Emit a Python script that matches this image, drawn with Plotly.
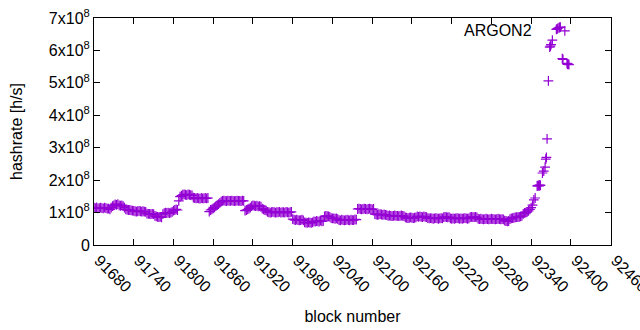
import plotly.graph_objects as go

# Hashrate in units of 1e8 h/s, one reading every 2 blocks starting at block 91680
start_block = 91680
block_step = 2
hashrate_e8 = [
    1.15, 1.14, 1.16, 1.13, 1.14, 1.15, 1.14, 1.13, 1.15, 1.14, 1.12,
    1.12, 1.10, 1.15,
    1.20, 1.22, 1.25, 1.24, 1.26, 1.22, 1.21, 1.22, 1.20,
    1.15, 1.10, 1.09, 1.08, 1.08, 1.07, 1.06,
    1.05, 1.04, 1.03, 1.04, 1.05, 1.04, 1.03, 1.04, 1.03, 1.02,
    0.97, 0.96, 0.96, 0.95, 0.96, 0.95,
    0.90, 0.88, 0.87, 0.86, 0.87, 0.85,
    0.95, 0.98, 1.00, 0.99, 1.00, 0.98, 1.00, 1.02,
    1.06, 1.08, 1.10, 1.08,
    1.36, 1.49,
    1.52, 1.55, 1.56, 1.55, 1.54, 1.56, 1.55, 1.54, 1.53,
    1.46, 1.45, 1.44, 1.45, 1.44, 1.43, 1.45, 1.44, 1.44, 1.45, 1.44, 1.45,
    1.03, 1.08, 1.10, 1.13, 1.16, 1.20, 1.23,
    1.26, 1.30, 1.34,
    1.36, 1.37, 1.36, 1.35, 1.37, 1.36, 1.36, 1.37, 1.36, 1.35, 1.36, 1.37, 1.36, 1.36, 1.35, 1.37, 1.36,
    1.06, 1.08, 1.10, 1.12, 1.15,
    1.20, 1.22, 1.21, 1.20, 1.21, 1.19, 1.20, 1.18,
    1.12, 1.10, 1.08, 1.06,
    1.02, 1.01, 1.00, 1.01, 1.02, 1.01, 1.00, 1.01, 1.01, 1.02, 1.00, 1.01, 1.01, 1.00, 1.02, 1.01, 1.00, 1.01, 1.02,
    0.80, 0.78, 0.77, 0.78, 0.77, 0.76, 0.77, 0.78, 0.76,
    0.70, 0.69, 0.68, 0.70, 0.69, 0.68, 0.70,
    0.73, 0.72, 0.74, 0.73, 0.72, 0.75, 0.73, 0.74,
    0.88, 0.90, 0.89, 0.88, 0.87,
    0.83, 0.82, 0.82, 0.81, 0.82, 0.80,
    0.77, 0.76, 0.78, 0.77, 0.76, 0.77, 0.78, 0.77, 0.76, 0.78, 0.77, 0.77, 0.79, 0.78,
    1.11, 1.12, 1.11, 1.10, 1.11, 1.12, 1.11, 1.10, 1.11, 1.12, 1.11, 1.10, 1.11,
    0.95, 0.94, 0.93, 0.94, 0.95, 0.94, 0.93, 0.94, 0.93, 0.92,
    0.90, 0.91, 0.90, 0.89, 0.90, 0.91, 0.90, 0.90, 0.89, 0.90, 0.91, 0.90, 0.89,
    0.85, 0.84, 0.83, 0.84, 0.85, 0.84, 0.83, 0.84, 0.85,
    0.88, 0.87, 0.88, 0.87, 0.86, 0.88, 0.87, 0.86,
    0.83, 0.82, 0.83, 0.82, 0.81, 0.82, 0.83, 0.82, 0.81, 0.82, 0.83, 0.82,
    0.86, 0.87, 0.86, 0.85, 0.86,
    0.82, 0.81, 0.82, 0.81, 0.82, 0.83, 0.82, 0.81, 0.82, 0.81, 0.82, 0.83, 0.82, 0.81, 0.82,
    0.86, 0.87, 0.86, 0.86, 0.87, 0.85,
    0.81, 0.80, 0.81, 0.80, 0.79, 0.80, 0.81, 0.80, 0.79, 0.80, 0.81, 0.80, 0.80, 0.79, 0.80, 0.81, 0.80, 0.79, 0.80, 0.79,
    0.75, 0.74, 0.73, 0.74,
    0.80, 0.82, 0.83, 0.84, 0.85, 0.86, 0.86, 0.87, 0.88, 0.90,
    0.96, 0.99, 1.00, 1.02, 1.05,
    1.10, 1.15, 1.23, 1.39, 1.45,
]

# The final surge, read block by block
spike_blocks = [92349, 92350, 92351, 92352, 92353, 92354, 92357, 92359, 92361, 92362,
                92363, 92364, 92366, 92368, 92369, 92370, 92372, 92378, 92379, 92380,
                92382, 92383, 92384, 92387, 92388, 92394, 92395, 92396, 92397]
spike_e8 = [1.82, 1.83, 1.84, 1.82, 1.85, 1.84, 2.22, 2.28, 2.40, 2.65,
            2.70, 3.27, 5.06, 6.10, 6.13, 6.18, 6.32, 6.65, 6.66, 6.68,
            6.70, 6.71, 6.72, 5.75, 5.72, 5.60, 5.57, 5.58, 5.56]

x_ticks = [91680, 91740, 91800, 91860, 91920, 91980, 92040, 92100,
           92160, 92220, 92280, 92340, 92400, 92460]
x_ticktext = [str(t) for t in x_ticks]
y_ticks = [0, 1e8, 2e8, 3e8, 4e8, 5e8, 6e8, 7e8]
y_ticktext = ["0"] + [f"{k}x10<sup>8</sup>" for k in range(1, 8)]

blocks = [start_block + block_step * i for i in range(len(hashrate_e8))] + spike_blocks
values = [v * 1e8 for v in hashrate_e8] + [v * 1e8 for v in spike_e8]

color = "#9400D3"
font = dict(family="Liberation Sans, Arial, sans-serif", size=16, color="black")

fig = go.Figure()
fig.add_trace(go.Scatter(
    x=blocks, y=values, mode="markers", name="",
    marker=dict(symbol="cross-thin", size=7, opacity=1,
                line=dict(color=color, width=1.2), color=color),
    showlegend=True,
))

axis_common = dict(
    showline=True, linecolor="black", linewidth=1, mirror="ticks",
    ticks="inside", ticklen=6, tickcolor="black", tickwidth=1,
    showgrid=False, zeroline=False, tickfont=font,
    automargin=False, ticklabeloverflow="allow",
)

fig.update_layout(
    template="none",
    width=640, height=330,
    margin=dict(l=94, r=29, t=18, b=85, autoexpand=False),
    paper_bgcolor="white", plot_bgcolor="white",
    font=font,
    xaxis=dict(range=[91680, 92460.5], tickvals=x_ticks, ticktext=x_ticktext, tickangle=45,
               ticklabelstandoff=-1, ticklabelshift=5,
               title=dict(text="block number", font=font, standoff=16), **axis_common),
    yaxis=dict(range=[0, 7e8], tickvals=y_ticks, ticktext=y_ticktext,
               title=dict(text="hashrate [h/s]", font=font, standoff=22), **axis_common),
    legend=dict(x=0.872, y=0.943, xanchor="left", yanchor="middle",
                bgcolor="rgba(0,0,0,0)", borderwidth=0, font=font),
    annotations=[dict(text="ARGON2", xref="paper", yref="paper", x=0.852, y=0.943,
                      xanchor="right", yanchor="middle", showarrow=False, font=font)],
)

fig.write_html("out.html", config={"displayModeBar": False},
               post_script="document.body.style.margin='0';")
